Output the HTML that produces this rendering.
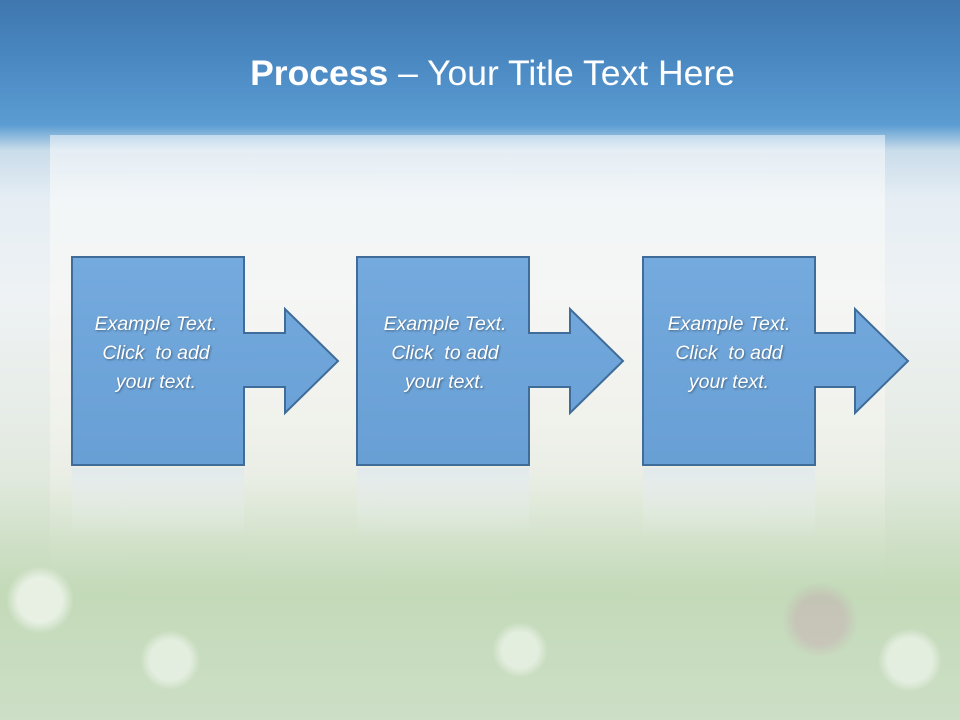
<!DOCTYPE html>
<html><head><meta charset="utf-8"><style>
html,body{margin:0;padding:0}
body{width:960px;height:720px;overflow:hidden;position:relative;font-family:"Liberation Sans",sans-serif;
background:linear-gradient(180deg,#3f77ae 0px,#4a88c2 60px,#5b9dd2 125px,#c9dcea 150px,#e6eef4 200px,#eef2f4 300px,#e6ece6 420px,#dde7d8 520px,#d3e2cc 600px,#d9e6d5 720px);}
.panel{position:absolute;left:50px;top:135px;width:835px;height:450px;background:linear-gradient(180deg,rgba(255,255,255,0.5),rgba(248,246,240,0.6) 60%,rgba(248,246,240,0));}
.flow{position:absolute;left:0;top:480px;width:960px;height:240px;background:
radial-gradient(circle at 40px 120px,rgba(255,255,255,.6) 0 22px,transparent 34px),
radial-gradient(circle at 170px 180px,rgba(255,255,255,.5) 0 20px,transparent 30px),
radial-gradient(circle at 520px 170px,rgba(255,255,255,.5) 0 18px,transparent 28px),
radial-gradient(circle at 820px 140px,rgba(200,130,170,.25) 0 24px,transparent 38px),
radial-gradient(circle at 910px 180px,rgba(255,255,255,.5) 0 22px,transparent 32px),
linear-gradient(180deg,rgba(170,205,150,0),rgba(175,208,160,.45) 45%,rgba(190,215,180,.45));}
.title{position:absolute;top:53px;left:0;width:985px;text-align:center;color:#fff;font-size:35.5px;}
.t{position:absolute;width:172px;text-align:center;color:#fff;font-style:italic;font-size:19.5px;line-height:29px;top:310px;text-shadow:1px 1px 2px rgba(0,0,0,.4)}
</style></head><body>
<div class="panel"></div>
<div class="flow"></div>
<div class="title"><b>Process</b> – Your Title Text Here</div>
<svg width="960" height="720" style="position:absolute;left:0;top:0">
<defs><linearGradient id="g" x1="0" y1="0" x2="0" y2="1"><stop offset="0" stop-color="#74aade"/><stop offset="1" stop-color="#689fd4"/></linearGradient>
<linearGradient id="r" x1="0" y1="0" x2="0" y2="1"><stop offset="0" stop-color="#dfe8ef" stop-opacity=".7"/><stop offset="1" stop-color="#eef2f2" stop-opacity="0"/></linearGradient></defs>
<g stroke="#3f6c98" stroke-width="2" fill="url(#g)">
<path d="M72 257H244V333H285V309L338 361L285 413V387H244V465H72Z"/>
<path d="M357 257H529V333H570V309L623 361L570 413V387H529V465H357Z"/>
<path d="M643 257H815V333H855V309L908 361L855 413V387H815V465H643Z"/>
</g>
<g fill="url(#r)">
<rect x="72" y="468" width="172" height="70"/><rect x="357" y="468" width="172" height="70"/><rect x="643" y="468" width="172" height="70"/>
</g>
</svg>
<div class="t" style="left:70px">Example Text.<br>Click&nbsp; to add<br>your text.</div>
<div class="t" style="left:359px">Example Text.<br>Click&nbsp; to add<br>your text.</div>
<div class="t" style="left:643px">Example Text.<br>Click&nbsp; to add<br>your text.</div>
</body></html>
